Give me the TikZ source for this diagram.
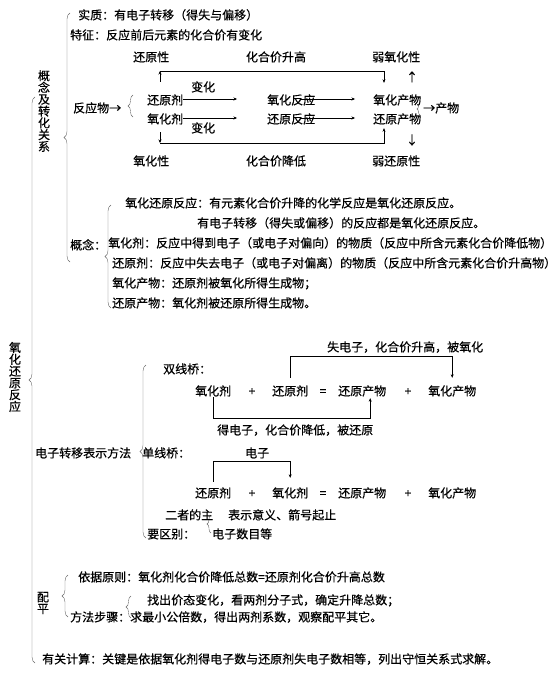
\documentclass[tikz,border=0pt]{standalone}
\usepackage{fontspec}
\setmainfont{Noto Sans CJK SC}[FakeBold=0.5]
\usetikzlibrary{arrows.meta, positioning, calc, decorations.pathreplacing}
\newcommand{\colfont}{\fontsize{12}{11.8}\selectfont\setlength{\lineskiplimit}{-6pt}}

\begin{document}
\begin{tikzpicture}[
    x=1pt, y=-1pt,
    >={Stealth[length=3.5pt, width=3pt]},
    txt/.style    = {anchor=west, inner sep=0pt, text height=10.5pt, text depth=1.5pt, font=\fontsize{12}{12}\selectfont},
    sym/.style    = {txt, anchor=center},
    vtxt/.style   = {align=center, inner sep=0pt, font=\colfont},
    bracel/.style = {draw=black!60, decorate, decoration={brace, amplitude=#1}},
    bracel/.default = 4pt,
    link/.style   = {->, thin}
]
    \useasboundingbox (0,0) rectangle (558,677);

    % titles and braces
    \node[vtxt] (mainTitle) at (15,377) {氧\\化\\还\\原\\反\\应};
    \node[vtxt] (conceptTitle) at (44,111) {概\\念\\及\\转\\化\\关\\系};
    \node[vtxt] (balance) at (43,603) {配\\平};
    \draw[bracel=6pt] (35,663) -- (35,97);
    \draw[bracel=6pt] (70,262) -- (70,13);
    \draw[bracel=6pt] (111,308) -- (111,205);
    \draw[bracel=6pt] (146,538) -- (146,365);
    \draw[bracel=6pt] (68,617) -- (68,575);
    \draw[bracel=5pt] (133,117) -- (133,95);
    \draw[bracel=5pt] (131,618) -- (131,596);
    \draw[bracel=4pt] (211,533) -- (211,515);
    \draw[bracel=3pt] (420,115) -- (420,103);

    \node[txt] (essence) at (78,15) {实质：有电子转移（得失与偏移）};
    \node[txt] (feature) at (70,35) {特征：反应前后元素的化合价有变化};

    % relation diagram
    \node[txt] (lblRdy) at (133,57) {还原性};
    \node[sym] (lblUp) at (276,57) {化合价升高};
    \node[txt] (lblWOx) at (372,57) {弱氧化性};
    \node[txt] (reac) at (73,108) {反应物→};
    \node[txt] (rdA) at (147,100) {还原剂};
    \node[txt] (oxA) at (147,119) {氧化剂};
    \node[txt] (chgA) at (191,87) {变化};
    \node[txt] (chgB) at (191,128) {变化};
    \node[txt] (oxR) at (267,100) {氧化反应};
    \node[txt] (rdR) at (267,119) {还原反应};
    \node[txt] (oxP) at (373,100) {氧化产物};
    \node[txt] (rdP) at (373,119) {还原产物};
    \node[txt] (prod) at (423,108) {→产物};
    \node[sym] (upMark) at (412,77) {↑};
    \node[sym] (dnMark) at (412,140) {↓};
    \node[txt] (lblOxy) at (133,161) {氧化性};
    \node[sym] (lblDown) at (276,161) {化合价降低};
    \node[txt] (lblWRd) at (372,161) {弱还原性};

    \draw[link] ([yshift=1pt]rdA.east) -- ([xshift=-30pt,yshift=1pt]oxR.west);
    \draw[link] ([yshift=1pt]oxA.east) -- ([xshift=-30pt,yshift=1pt]rdR.west);
    \draw[link] ([xshift=33pt,yshift=1pt]oxR.west) -- ([xshift=-18pt,yshift=1pt]oxP.west);
    \draw[link] ([xshift=33pt,yshift=1pt]rdR.west) -- ([xshift=-18pt,yshift=1pt]rdP.west);

    \coordinate (upL) at (160,71);
    \coordinate (upR) at (384,71);
    \coordinate (dnL) at (160,143);
    \coordinate (dnR) at (384,143);
    \draw[link] ([yshift=12pt]rdA.north -| upL) -- (upL);
    \draw[link] (upL) -- (upR) -- ([yshift=11pt]oxP.north -| upR);
    \draw[link] ([yshift=-7pt]oxA.south -| dnL) -- (dnL);
    \draw[link] (dnL) -- (dnR) -- ([yshift=-3pt]rdP.south -| dnR);

    % concepts
    \node[txt] (concept) at (70,245) {概念：};
    \node[txt] (defRedox) at (125,203) {氧化还原反应：有元素化合价升降的化学反应是氧化还原反应。};
    \node[txt] (defTrans) at (197,223) {有电子转移（得失或偏移）的反应都是氧化还原反应。};
    \node[txt] (defOx) at (108,243) {氧化剂：反应中得到电子（或电子对偏向）的物质（反应中所含元素化合价降低物）};
    \node[txt] (defRd) at (112,263) {还原剂：反应中失去电子（或电子对偏离）的物质（反应中所含元素化合价升高物）};
    \node[txt] (defOxP) at (112,283) {氧化产物：还原剂被氧化所得生成物；};
    \node[txt] (defRdP) at (112,303) {还原产物：氧化剂被还原所得生成物。};

    % electron transfer
    \node[txt] (method) at (35,453) {电子转移表示方法};
    \node[txt] (dbl) at (163,369) {双线桥：};
    \node[txt] (lose) at (327,347) {失电子，化合价升高，被氧化};
    \node[txt] (eOxA) at (195,391) {氧化剂};
    \node[sym] (ePlusA) at (252,391) {+};
    \node[txt] (eRdA) at (272,391) {还原剂};
    \node[sym] (eEqA) at (323,391) {=};
    \node[txt] (eRdPA) at (338,391) {还原产物};
    \node[sym] (ePlusB) at (408,391) {+};
    \node[txt] (eOxPA) at (428,391) {氧化产物};
    \node[txt] (gain) at (217,430) {得电子，化合价降低，被还原};

    \coordinate (loseY) at (0,356);
    \coordinate (gainY) at (0,418);
    \draw[link] ([yshift=7pt]eRdA.north) -- (eRdA.north |- loseY) -| ([yshift=7pt]eOxPA.north);
    \draw[link] (eOxA.south) -- (eOxA.south |- gainY) -| ([xshift=8pt,yshift=-1pt]eRdPA.south);

    \node[txt] (sgl) at (142,453) {单线桥：};
    \node[txt] (elec) at (245,453) {电子};
    \node[txt] (eRdB) at (195,493) {还原剂};
    \node[sym] (ePlusC) at (252,493) {+};
    \node[txt] (eOxB) at (272,493) {氧化剂};
    \node[sym] (eEqB) at (323,493) {=};
    \node[txt] (eRdPB) at (338,493) {还原产物};
    \node[sym] (ePlusD) at (408,493) {+};
    \node[txt] (eOxPB) at (428,493) {氧化产物};

    \coordinate (elecY) at (0,461);
    \draw[link] ([yshift=5pt]eRdB.north) -- (eRdB.north |- elecY) -| ([yshift=9pt]eOxB.north);

    \node[txt] (mainA) at (165,515) {二者的主};
    \node[txt] (meaning) at (228,515) {表示意义、箭号起止};
    \node[txt] (mainB) at (147,534) {要区别：};
    \node[txt] (count) at (212,534) {电子数目等};

    % balancing and calculation
    \node[txt] (basis) at (78,577) {依据原则：氧化剂化合价降低总数=还原剂化合价升高总数};
    \node[txt] (stepA) at (147,600) {找出价态变化，看两剂分子式，确定升降总数；};
    \node[txt] (stepB) at (70,617) {方法步骤：求最小公倍数，得出两剂系数，观察配平其它。};
    \node[txt] (calc) at (42,659) {有关计算：关键是依据氧化剂得电子数与还原剂失电子数相等，列出守恒关系式求解。};
\end{tikzpicture}
\end{document}
